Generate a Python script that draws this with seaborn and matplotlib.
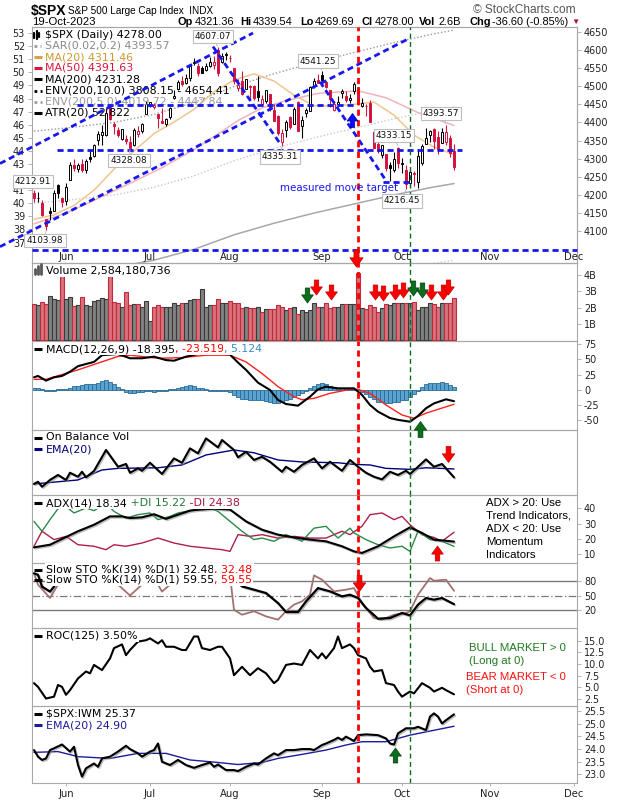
import numpy as np
import pandas as pd
import matplotlib
matplotlib.use("Agg")
import matplotlib.pyplot as plt
from matplotlib.path import Path
from matplotlib.lines import Line2D
import matplotlib.transforms as mtransforms
import matplotlib.patheffects as pe
import seaborn as sns

# ------------------------------------------------------------------ data
holidays = ["2023-05-29", "2023-06-19", "2023-07-04", "2023-09-04", "2023-11-23"]
first_day, last_day, axis_end = "2023-05-19", "2023-10-19", "2023-12-29"
month_names = ["Jun", "Jul", "Aug", "Sep", "Oct", "Nov", "Dec"]
red_line_date, green_line_date = "2023-09-15", "2023-10-04"

prev_close = 4198.05
opens = [4204.15, 4190.78, 4176.80, 4132.96, 4155.71, 4156.16, 4226.71, 4190.74, 4183.03, 4241.01,
         4282.99, 4271.34, 4285.47, 4268.69, 4304.88, 4308.32, 4352.61, 4366.29, 4365.33, 4440.95,
         4396.11, 4380.01, 4355.40, 4354.17, 4344.84, 4337.36, 4367.48, 4374.94, 4422.44, 4450.48,
         4442.04, 4422.62, 4404.54, 4394.23, 4415.55, 4467.69, 4491.50, 4514.61, 4508.86, 4521.78,
         4563.87, 4554.38, 4550.16, 4543.39, 4555.19, 4558.96, 4598.26, 4565.75, 4584.82, 4578.83,
         4550.93, 4494.27, 4513.96, 4491.58, 4498.03, 4501.57, 4487.16, 4450.69, 4458.13, 4478.87,
         4433.79, 4416.32, 4344.88, 4380.28, 4415.33, 4396.44, 4455.16, 4389.38, 4426.03, 4432.75,
         4500.34, 4517.01, 4530.60, 4510.06, 4490.35, 4434.55, 4451.30, 4480.98, 4473.27, 4462.65,
         4487.78, 4497.98, 4445.13, 4445.41, 4452.81, 4374.36, 4341.74, 4310.62, 4312.88, 4282.63,
         4269.65, 4328.18, 4284.52, 4269.75, 4233.83, 4259.31, 4234.79, 4289.02, 4339.75, 4366.59,
         4380.94, 4360.49, 4342.37, 4345.23, 4357.35, 4321.36]
highs = [4212.91, 4209.22, 4185.68, 4132.96, 4165.74, 4212.87, 4231.10, 4195.44, 4232.43, 4290.67,
         4299.28, 4288.33, 4299.19, 4298.01, 4322.62, 4340.13, 4375.37, 4391.82, 4439.20, 4448.47,
         4400.15, 4386.22, 4382.25, 4366.55, 4362.06, 4384.42, 4390.35, 4398.39, 4458.48, 4456.46,
         4454.06, 4422.62, 4440.39, 4412.60, 4443.64, 4488.34, 4517.38, 4527.76, 4532.85, 4562.30,
         4578.43, 4564.74, 4555.00, 4563.41, 4580.62, 4582.47, 4607.07, 4590.16, 4594.22, 4584.62,
         4550.93, 4519.49, 4540.34, 4519.84, 4503.31, 4502.44, 4527.37, 4476.23, 4490.33, 4478.87,
         4449.95, 4421.17, 4381.82, 4407.55, 4418.59, 4443.18, 4458.30, 4418.46, 4439.56, 4500.14,
         4521.65, 4532.26, 4541.25, 4514.29, 4490.35, 4457.81, 4473.53, 4490.77, 4487.11, 4479.39,
         4511.99, 4497.98, 4466.36, 4449.85, 4461.03, 4375.70, 4357.40, 4338.51, 4313.01, 4292.07,
         4317.27, 4333.15, 4300.58, 4281.15, 4268.50, 4267.13, 4324.10, 4341.73, 4385.46, 4378.64,
         4385.85, 4377.10, 4383.33, 4393.57, 4364.20, 4339.54]
lows = [4180.20, 4179.68, 4142.54, 4103.98, 4129.73, 4156.16, 4192.18, 4166.15, 4171.64, 4241.01,
        4266.82, 4263.09, 4263.96, 4261.07, 4291.70, 4304.37, 4337.85, 4337.85, 4362.60, 4407.44,
        4367.19, 4360.14, 4351.82, 4341.34, 4328.08, 4335.00, 4360.22, 4371.97, 4422.44, 4442.29,
        4436.61, 4385.05, 4397.40, 4389.92, 4408.46, 4463.23, 4489.36, 4499.56, 4504.90, 4514.59,
        4557.48, 4527.56, 4535.79, 4541.29, 4552.42, 4547.58, 4528.56, 4564.01, 4573.14, 4567.53,
        4505.75, 4485.54, 4474.55, 4491.15, 4464.39, 4461.33, 4457.92, 4443.98, 4453.44, 4432.19,
        4403.55, 4364.83, 4335.31, 4360.30, 4382.77, 4396.44, 4375.55, 4356.29, 4414.98, 4431.68,
        4493.59, 4507.39, 4501.35, 4496.01, 4442.38, 4430.46, 4448.38, 4467.89, 4456.83, 4453.52,
        4478.69, 4447.21, 4442.11, 4416.61, 4401.38, 4329.17, 4316.49, 4302.70, 4265.98, 4238.63,
        4264.38, 4274.86, 4260.21, 4216.45, 4220.48, 4225.91, 4219.55, 4283.79, 4339.64, 4345.34,
        4325.43, 4311.97, 4342.37, 4337.54, 4303.84, 4269.69]
closes = [4191.98, 4192.63, 4145.58, 4115.24, 4151.28, 4205.45, 4205.52, 4179.83, 4221.02, 4282.37,
          4273.79, 4283.85, 4267.52, 4293.93, 4298.86, 4338.93, 4369.01, 4372.59, 4425.84, 4409.59,
          4388.71, 4365.69, 4381.89, 4348.33, 4328.82, 4378.41, 4376.86, 4396.44, 4450.38, 4455.59,
          4446.82, 4411.59, 4398.95, 4409.53, 4439.26, 4472.16, 4510.04, 4505.42, 4522.79, 4554.98,
          4565.72, 4534.87, 4536.34, 4554.64, 4567.46, 4566.75, 4537.41, 4582.23, 4588.96, 4576.73,
          4513.39, 4501.89, 4478.03, 4518.44, 4499.38, 4467.71, 4468.83, 4464.05, 4489.72, 4437.86,
          4404.33, 4370.36, 4369.71, 4399.77, 4387.55, 4436.01, 4376.31, 4405.71, 4433.31, 4497.63,
          4514.87, 4507.66, 4515.77, 4496.83, 4465.48, 4451.14, 4457.49, 4487.46, 4461.90, 4467.44,
          4505.10, 4450.32, 4453.53, 4443.95, 4402.20, 4330.00, 4320.06, 4337.44, 4273.53, 4274.51,
          4299.70, 4288.05, 4288.39, 4229.45, 4263.75, 4258.19, 4308.50, 4335.66, 4358.24, 4376.95,
          4349.61, 4327.78, 4373.63, 4373.20, 4314.60, 4278.00]
volume_b = [2.23, 2.15, 2.33, 2.23, 2.72, 2.53, 2.47, 3.94, 2.52, 2.64,
            2.09, 2.17, 2.64, 2.17, 2.09, 2.39, 2.47, 2.58, 2.52, 3.94,
            2.33, 2.27, 2.06, 2.96, 2.15, 2.21, 2.21, 2.06, 2.39, 1.17,
            2.02, 2.15, 2.02, 2.06, 2.06, 2.27, 2.18, 2.27, 2.27, 2.47,
            2.52, 2.52, 3.13, 2.06, 2.18, 2.18, 2.55, 2.27, 2.31, 2.39,
            2.27, 2.31, 1.96, 2.06, 2.00, 1.96, 2.02, 1.75, 1.90, 1.90,
            1.90, 2.15, 2.06, 1.86, 1.96, 2.02, 1.61, 1.86, 1.75, 1.86,
            2.27, 2.02, 2.06, 2.31, 2.00, 2.06, 2.06, 2.21, 2.21, 2.21,
            2.21, 4.11, 1.96, 1.90, 2.17, 2.06, 1.75, 2.00, 2.21, 2.17,
            2.31, 2.27, 2.31, 2.27, 2.27, 2.37, 1.86, 2.06, 2.06, 2.27,
            2.23, 2.06, 2.31, 2.31, 2.31, 2.58]
macd_hist = [3, 3, 1, -2, -2, -1, 1, 1, 2, 4,
             6, 7, 8, 9, 9, 10, 12, 14, 16, 13,
             9, 5, 1, -3, -5, -5, -4, -4, -1, -2,
             -3, -2, -1, -1, 1, 2, 4, 5, 7, 8,
             6, 4, 3, 1, -1, -1, -2, -1, -2, -4,
             -8, -11, -14, -15, -16, -17, -17, -17, -18, -20,
             -22, -21, -19, -17, -15, -12, -8, -5, -2, 3,
             7, 10, 11, 9, 6, 4, 3, 3, 3, 4,
             2, 0, -3, -6, -11, -15, -19, -20, -22, -21,
             -20, -19, -17, -16, -12, -7, -1, 5, 9, 11,
             12, 12, 13, 11, 8, 5.1]

ma20_idx = [0, 5, 10, 15, 20, 25, 30, 35, 40, 45, 50, 55, 60, 65, 70, 75, 80, 85, 90, 95, 100, 105]
ma20_val = [4133, 4145, 4171, 4213, 4271, 4321, 4369, 4401, 4436, 4484, 4517, 4534, 4514, 4475,
            4446, 4445, 4450, 4456, 4420, 4365, 4332, 4311.46]
ma50_idx = [0, 8, 16, 24, 32, 40, 46, 51, 57, 63, 71, 81, 88, 96, 105]
ma50_val = [4120, 4150, 4190, 4232, 4275, 4325, 4368, 4405, 4440, 4460, 4480, 4487, 4468, 4427, 4391.63]
ma200_idx = [0, 10, 20, 30, 40, 50, 60, 70, 80, 90, 100, 105]
ma200_val = [3978, 3988, 4000, 4020, 4050, 4090, 4122, 4150, 4175, 4200, 4222, 4231.28]

macd_idx = [0, 1, 3, 5, 7, 9, 11, 13, 15, 17, 21, 24, 27, 30, 33, 35, 38, 41, 44, 47, 49, 51, 53,
            56, 59, 61, 63, 66, 69, 71, 73, 76, 79, 80, 82, 84, 86, 89, 91, 94, 96, 98, 100, 103, 105]
macd_val = [20.8, 23, 15.3, 20.8, 23, 30, 39, 42.6, 46, 57, 59, 52, 52, 54.6, 49, 48, 54.6, 59, 62, 61,
            58, 45, 33, 12, 0, -16.4, -23, -25.7, -11, 1, 5.5, 2.7, 2.7, 2.7, -8, -24.6, -35.5, -46,
            -49, -52, -42.6, -30, -22, -15.3, -18.4]
signal_idx = [0, 3, 11, 16, 21, 24, 31, 37, 43, 49, 53, 57, 61, 65, 67, 70, 74, 79, 81, 84, 88, 92,
              95, 98, 101, 105]
signal_val = [17.5, 17.5, 33, 44, 55, 57, 52, 53, 57, 57, 46, 27, 5.5, -11, -16, -13.7, -5.5, 1, 1,
              -5.5, -24.6, -41, -46.4, -38, -31.7, -23.5]

obv_idx = [0, 1, 2, 4, 6, 8, 9, 11, 12, 13, 15, 18, 21, 23, 24, 26, 27, 29, 32, 35, 37, 39, 41, 43,
           46, 47, 50, 51, 53, 55, 57, 59, 62, 63, 65, 67, 70, 72, 74, 77, 79, 81, 83, 85, 87, 89,
           91, 93, 94, 96, 98, 100, 102, 105]
obv_val = [4.7, 5.8, 3.3, 6.7, 9.2, 6.7, 10.3, 8.3, 10.8, 8.0, 11.2, 21.7, 13.3, 14.7, 10.3, 12.5,
           11.3, 15.3, 9.7, 17.5, 15.3, 22.5, 20.0, 27.5, 23.0, 26.7, 21.7, 18.0, 20.8, 16.7, 18.3,
           15.8, 10.8, 13.3, 10.8, 14.2, 17.5, 12.5, 15.8, 11.3, 16.7, 13.3, 10.3, 8.3, 7.0, 10.8,
           9.2, 11.3, 9.7, 13.3, 17.0, 13.3, 14.7, 8.0]
obv_ema_idx = [0, 11, 17, 21, 31, 37, 43, 50, 55, 61, 67, 76, 80, 84, 88, 94, 98, 105]
obv_ema_val = [4.7, 6.7, 11.7, 12.5, 12.8, 14.2, 19.2, 21.7, 20.3, 16.7, 15.7, 15.3, 14.5, 14.2,
               12.5, 12.0, 12.8, 12.2]

adx_idx = [0, 4, 11, 15, 19, 22, 24, 27, 30, 33, 36, 39, 41, 45, 49, 53, 57, 61, 65, 69, 73, 77,
           80, 82, 86, 90, 94, 97, 100, 105]
adx_val = [14.6, 16.3, 25, 29.2, 34.6, 34.6, 33.5, 34, 36, 33, 35.7, 38.3, 38.9, 39.6, 39, 31.4,
           26, 22.8, 21, 19.6, 18.5, 15.3, 12, 11, 15.3, 21.7, 27.5, 23.9, 19.6, 18.34]
pdi_idx = [0, 2, 4, 7, 10, 13, 15, 18, 20, 23, 26, 29, 31, 34, 36, 39, 43, 46, 49, 52, 55, 57, 60,
           63, 67, 70, 73, 76, 79, 80, 83, 86, 89, 92, 94, 96, 99, 102, 105]
pdi_val = [31.4, 25, 32.5, 43, 36.8, 40, 38.3, 43, 37.8, 33.5, 35.7, 36.8, 32.5, 34.6, 36.8, 38.3,
           41, 37.8, 31.4, 25, 19.6, 20.6, 18.5, 22.8, 18.5, 27, 28.2, 20.6, 27, 23.9, 19.6, 16.3,
           14.2, 15.3, 12, 25, 19.6, 18.5, 15.22]
mdi_idx = [0, 2, 5, 8, 11, 15, 18, 20, 23, 27, 31, 35, 39, 43, 47, 49, 51, 54, 57, 61, 65, 69, 73,
           77, 79, 82, 84, 87, 90, 92, 94, 97, 100, 102, 105]
mdi_val = [15.3, 25, 19.6, 21.7, 16.3, 15.3, 13.1, 16.3, 15.3, 17.4, 20.6, 17.4, 15.3, 14.2, 13.1,
           12, 22.8, 21.7, 22.8, 20.6, 21.7, 20.6, 20.6, 25, 22.8, 28.2, 35.7, 36.8, 32.5, 34.6,
           29.2, 22.8, 21, 18.5, 24.38]

k39_idx = [0, 1, 2, 4, 5, 6, 10, 20, 30, 40, 45, 47, 49, 52, 55, 58, 61, 63, 66, 68, 71, 74, 77,
           79, 81, 83, 86, 89, 92, 94, 96, 98, 100, 102, 105]
k39_val = [95, 92, 68, 58, 68, 92, 96, 97, 95, 96, 97, 96, 91, 68.5, 61.8, 55, 34.7, 16.5, 16.5, 38,
           65, 58.4, 48.2, 51.6, 44.9, 24.6, 3, 4.3, 14.5, 9.7, 31.4, 44.9, 41.5, 44.9, 32.48]
k14_idx = [0, 1, 4, 6, 7, 15, 20, 21, 24, 27, 28, 30, 31, 32, 34, 35, 45, 49, 50, 52, 55, 58, 61,
           63, 65, 67, 69, 70, 72, 75, 78, 80, 82, 85, 87, 90, 93, 94, 96, 99, 100, 103, 105]
k14_val = [95, 72, 45, 72, 95, 96, 95, 72, 50, 72, 95, 95, 72, 58, 72, 95, 97, 91, 21, 11, 18, 7.7,
           1, 18, 31.4, 38, 51.6, 90.8, 82, 58.4, 61.8, 65, 34.7, 4.3, 1, 11, 14.5, 18, 51.6, 85.4,
           80, 82, 59.55]

roc_idx = [0, 1, 3, 5, 6, 7, 8, 9, 11, 13, 14, 15, 17, 19, 20, 22, 23, 24, 26, 28, 29, 31, 32, 33,
           35, 37, 38, 40, 41, 42, 44, 46, 47, 49, 50, 52, 54, 56, 58, 60, 61, 63, 65, 67, 69, 71,
           72, 73, 75, 76, 77, 79, 80, 81, 83, 84, 85, 87, 88, 90, 91, 92, 94, 95, 97, 99, 100,
           102, 103, 105]
roc_val = [5.9, 5.1, 2.6, 3.0, 5.5, 5.1, 3.4, 4.4, 6.9, 8.4, 8.0, 9.8, 8.7, 11.2, 13.4, 14.2, 11.9,
           13.0, 14.8, 15.1, 15.5, 14.4, 15.1, 13.7, 13.7, 13.0, 13.0, 15.9, 15.9, 13.4, 13.0, 13.7,
           13.7, 11.2, 7.6, 9.4, 7.6, 9.1, 8.0, 5.9, 6.6, 9.8, 10.1, 9.8, 13.0, 11.2, 12.3, 11.2,
           13.4, 15.9, 13.4, 14.2, 13.4, 11.9, 11.2, 9.4, 8.4, 8.7, 5.9, 5.5, 4.1, 3.0, 4.1, 3.7,
           5.9, 4.9, 4.1, 4.9, 4.4, 3.5]

iwm_idx = [0, 1, 2, 3, 4, 5, 7, 9, 10, 11, 12, 13, 15, 16, 17, 19, 21, 23, 24, 26, 27, 29, 30, 31,
           32, 34, 36, 38, 40, 42, 44, 45, 46, 48, 50, 51, 53, 55, 56, 58, 60, 61, 63, 65, 67, 69,
           70, 72, 73, 75, 76, 77, 78, 80, 81, 83, 86, 88, 89, 90, 91, 93, 95, 96, 98, 99, 100,
           101, 102, 103, 105]
iwm_val = [23.96, 23.70, 23.57, 23.63, 23.96, 24.03, 24.18, 23.90, 24.09, 23.37, 22.91, 23.24,
           23.43, 23.30, 23.63, 23.70, 23.90, 24.13, 24.00, 23.83, 23.70, 23.90, 23.96, 24.22,
           23.50, 23.37, 23.57, 23.37, 23.26, 23.37, 23.47, 23.30, 23.39, 23.17, 23.17, 23.13,
           23.30, 23.43, 23.39, 23.63, 23.83, 23.76, 23.96, 23.96, 24.00, 24.00, 23.96, 24.16,
           24.22, 24.36, 24.45, 24.36, 24.49, 24.32, 24.55, 24.58, 24.55, 24.42, 24.22, 24.18,
           24.62, 24.82, 24.82, 24.88, 24.75, 25.28, 25.41, 25.28, 25.01, 25.14, 25.37]
iwm_ema_idx = [0, 6, 11, 19, 26, 33, 39, 46, 51, 57, 61, 67, 73, 78, 82, 88, 94, 99, 105]
iwm_ema_val = [23.87, 23.90, 23.70, 23.63, 23.83, 23.83, 23.57, 23.47, 23.39, 23.47, 23.63, 23.79,
               23.96, 24.16, 24.29, 24.29, 24.55, 24.71, 24.90]

atr_ticks = [37, 38, 39, 40, 41, 43, 44, 45, 46, 47, 48, 49, 50, 51, 52, 53]

# price labels: (bar index, value, dx px, dy px)
price_labels = [(46, 4607.07, -5, -11), (72, 4541.25, -4, -10), (62, 4335.31, -2, 11),
                (24, 4328.08, -1, 12), (0, 4212.91, -1, -9), (3, 4103.98, -1, 11),
                (91, 4333.15, -4, -11), (93, 4216.45, -4, 12), (103, 4393.57, -5, -11)]
# hand-drawn trend lines (bar index, price)
trend_lines = [((-8.5, 4286.6), (54.75, 4646.4)), ((-8.5, 4057.2), (94.0, 4632.6)),
               ((10.75, 4447.9), (80.25, 4447.9)), ((5.75, 4323.8), (107.0, 4323.8)),
               ((44.75, 4609.0), (61.5, 4342.0)), ((71.5, 4512.0), (88.2, 4236.4)),
               ((87.25, 4236.4), (94.5, 4236.4)), ((-0.5, 4048.2), (135.75, 4048.2))]
# signal arrows: panel, bar index, value, direction, colour, size(px)
signal_arrows = [("vol", 68.3, 2.78, "down", "g", 15), ("vol", 70.5, 3.25, "down", "r", 15),
                 ("vol", 74.25, 2.98, "down", "r", 15), ("vol", 85.25, 2.98, "down", "r", 15),
                 ("vol", 87.3, 2.88, "down", "r", 15), ("vol", 90.25, 2.98, "down", "r", 15),
                 ("vol", 92.3, 3.09, "down", "r", 15), ("vol", 94.8, 3.19, "down", "g", 15),
                 ("vol", 96.9, 3.09, "down", "g", 15), ("vol", 99.2, 2.94, "down", "r", 15),
                 ("vol", 102.3, 2.94, "down", "r", 15), ("vol", 103.4, 3.25, "down", "r", 15),
                 ("price", 80.5, 4026, "down", "r", 17), ("price", 79.5, 4406, "up", "b", 14),
                 ("macd", 96.5, -64, "up", "g", 16), ("obv", 103.5, 19.7, "down", "r", 16),
                 ("adx", 100.75, 11, "up", "r", 15), ("sto", 81.25, 75.3, "down", "r", 16),
                 ("iwm", 90.25, 23.76, "up", "g", 15)]

# ------------------------------------------------------------------ setup
sns.set_theme(style="white")
plt.rcParams["font.family"] = ["DejaVu Sans"]
W, H = 620, 800
X0, X1 = 32, 577
XMIN, XMAX = -0.5, 135.75
SPINE = "#a8a8a8"
LEG = 7.9
ARIAL = ["Liberation Sans", "DejaVu Sans"]

cal = pd.bdate_range(first_day, axis_end)
cal = cal[~cal.isin(pd.to_datetime(holidays))]
n = int((cal <= pd.Timestamp(last_day)).sum())
x = np.arange(n)
month_pos = [int(np.argmax(cal.month == m)) for m in range(6, 13)]
red_x = cal.get_loc(pd.Timestamp(red_line_date))
green_x = cal.get_loc(pd.Timestamp(green_line_date))

fig = plt.figure(figsize=(6.2, 8.0), dpi=100)
fig.patch.set_facecolor("white")
renderer = fig.canvas.get_renderer()


def panel(y0, y1):
    ax = fig.add_axes([X0 / W, 1 - y1 / H, (X1 - X0) / W, (y1 - y0) / H])
    ax.patch.set_alpha(0)
    return ax


def style(ax, lim, ticks=None, labels=None, side="right"):
    ax.set_xlim(XMIN, XMAX)
    ax.set_ylim(*lim)
    ax.set_xticks([])
    ax.set_xlabel("")
    ax.set_ylabel("")
    for s in ax.spines.values():
        s.set_color(SPINE)
        s.set_linewidth(0.8)
    if ticks is None:
        ax.set_yticks([])
    else:
        ax.set_yticks(ticks)
        ax.set_yticklabels(labels if labels is not None else [str(t) for t in ticks])
    if side == "right":
        ax.yaxis.tick_right()
        ax.tick_params(axis="y", right=True, left=False, length=3, width=0.6, color=SPINE,
                       labelsize=6.9, labelcolor="#222222", pad=2)
    else:
        ax.yaxis.tick_left()
        ax.tick_params(axis="y", left=True, right=False, length=3, width=0.6, color=SPINE,
                       labelsize=6.9, labelcolor="#222222", pad=2)


def sline(ax, idx, val, color, lw, ls="-", shadow=False, z=3):
    sns.lineplot(x=np.asarray(idx, float), y=np.asarray(val, float), ax=ax, color=color,
                 linewidth=lw, linestyle=ls, sort=False, estimator=None, errorbar=None, zorder=z)
    line = ax.lines[-1]
    if shadow:
        line.set_path_effects([pe.SimpleLineShadow(offset=(0.9, -0.9), shadow_color="#888888",
                                                   alpha=0.55), pe.Normal()])
    return line


def vlines(ax):
    ax.axvline(red_x, color="#ff0000", lw=2.0, ls=(0, (2.2, 1.6)), zorder=8)
    ax.axvline(green_x, color="#0b6b1e", lw=1.0, ls=(0, (3.5, 2.5)), zorder=8)


def ftext(x0, y0, s, color="black", size=LEG, weight="normal", bg=False, family=None, target=None,
          ha="left", z=20):
    kw = dict(color=color, fontsize=size, fontweight=weight, va="center", ha=ha, zorder=z)
    if family is not None:
        kw["family"] = family
    if target is None:
        t = fig.text(x0 / W, 1 - y0 / H, s, **kw)
    else:
        t = target.text(x0 / W, 1 - y0 / H, s, transform=fig.transFigure, **kw)
    if bg:
        t.set_bbox(dict(facecolor="white", edgecolor="none", pad=0.8))
    return t


def fseq(x0, y0, parts, **kw):
    for s, c in parts:
        t = ftext(x0, y0, s, color=c, **kw)
        x0 += t.get_window_extent(renderer).width
    return x0


def fmark(x0, y0, color="black", ls="-", lw=2.2, length=8):
    fig.add_artist(Line2D([x0 / W, (x0 + length) / W], [1 - y0 / H] * 2, color=color, lw=lw, ls=ls,
                          solid_capstyle="butt", transform=fig.transFigure, zorder=21))


# ------------------------------------------------------------------ price panel
ax_atr = panel(27, 263)
ax_p = ax_atr.twinx()
ax_p.patch.set_alpha(0)

o, h, l, c = (np.asarray(v, float) for v in (opens, highs, lows, closes))
pc = np.r_[prev_close, c[:-1]]
up = c >= pc
edge = np.where(up, "#000000", "#d3143f")
face = np.where(c > o, "#ffffff", edge)

ma200 = np.asarray(ma200_val, float)
sline(ax_p, ma200_idx, ma200 * 1.10, "#9a9a9a", 1.0, ls=(0, (1, 1.5)), z=2)
sline(ax_p, ma200_idx, ma200 * 0.90, "#9a9a9a", 1.0, ls=(0, (1, 1.5)), z=2)
sline(ax_p, ma200_idx, ma200 * 1.05, "#c8c8c8", 1.0, ls=(0, (1, 1.5)), z=2)
sline(ax_p, ma200_idx, ma200 * 0.95, "#c8c8c8", 1.0, ls=(0, (1, 1.5)), z=2)
sline(ax_p, ma200_idx, ma200_val, "#a8a8a8", 1.1, z=2)
sline(ax_p, ma50_idx, ma50_val, "#f2b3bd", 1.1, z=2)
sline(ax_p, ma20_idx, ma20_val, "#efc68e", 1.1, z=2)

ax_p.vlines(x, l, h, colors=edge, lw=0.8, zorder=4)
ax_p.bar(x, np.maximum(np.abs(c - o), 0.9), bottom=np.minimum(o, c), width=0.72, color=face,
         edgecolor=edge, linewidth=0.7, zorder=5)

for (xa, ya), (xb, yb) in trend_lines:
    ax_p.plot([xa, xb], [ya, yb], color="#1717f0", lw=2.0, ls=(0, (2.2, 1.4)), zorder=7,
              clip_on=False)

for i, v, dx, dy in price_labels:
    ax_p.annotate(f"{v:.2f}", xy=(i, v), xytext=(dx / 1.389, -dy / 1.389), textcoords="offset points",
                  ha="center", va="center", fontsize=6.4, color="#111111", zorder=9,
                  annotation_clip=False,
                  bbox=dict(boxstyle="square,pad=0.25", fc="white", ec="#bdbdbd", lw=0.8),
                  arrowprops=dict(arrowstyle="-", color="#bdbdbd", lw=0.7, shrinkA=0, shrinkB=1))

ax_p.text(61.5, 4219, "measured move target", color="#1717f0", fontsize=7.4, va="center",
          ha="left", zorder=9)
vlines(ax_p)
style(ax_atr, (35.44, 53.46), atr_ticks, side="left")
style(ax_p, (4012.3, 4663.0), list(range(4100, 4651, 50)), side="right")
ax_p.spines["left"].set_visible(False)
blend = mtransforms.blended_transform_factory(ax_p.transData, ax_p.transAxes)
for pos, name in zip(month_pos, month_names):
    ax_p.text(pos, 0.026, name, transform=blend, ha="center", va="center", fontsize=7.2,
              color="#222222", zorder=9)

# price legend (no background)
leg_y = [35, 46, 57, 68, 79, 90.5, 101.5, 112.5]
for k, hgt in enumerate([5, 8, 4]):
    fig.add_artist(Line2D([(34 + 2.6 * k) / W] * 2, [1 - (leg_y[0] + hgt / 2) / H, 1 - (leg_y[0] - hgt / 2) / H],
                          color="black", lw=1.6, transform=fig.transFigure, zorder=21))
ftext(45, leg_y[0], r"\$SPX (Daily) 4278.00", target=ax_p, z=6)
fmark(34, leg_y[1], color="#9a9a9a", ls=(0, (1, 1.2)), lw=2.0, length=7)
ftext(45, leg_y[1], "SAR(0.02,0.2) 4393.57", color="#8a8a8a", target=ax_p, z=6)
fmark(34, leg_y[2], color="#d7a04a")
ftext(45, leg_y[2], "MA(20) 4311.46", color="#cf9a30", target=ax_p, z=6)
fmark(34, leg_y[3], color="#dc143c")
ftext(45, leg_y[3], "MA(50) 4391.63", color="#dc143c", target=ax_p, z=6)
fmark(34, leg_y[4], color="black")
ftext(45, leg_y[4], "MA(200) 4231.28", target=ax_p, z=6)
fmark(34, leg_y[5], color="black", ls=(0, (1, 1.2)), lw=2.0)
ftext(45, leg_y[5], "ENV(200,10.0) 3808.15 - 4654.41", target=ax_p, z=6)
fmark(34, leg_y[6], color="#9a9a9a", ls=(0, (1, 1.2)), lw=2.0)
ftext(45, leg_y[6], "ENV(200,5.0) 4019.72 - 4442.84", color="#9a9a9a", target=ax_p, z=6)
fmark(34, leg_y[7], color="black")
ftext(45, leg_y[7], "ATR(20) 52.822", target=ax_p, z=6)

# ------------------------------------------------------------------ volume
ax_v = panel(263, 341)
ax_v.bar(x, volume_b, width=0.8, color=np.where(up, "#828282", "#d7737d"),
         edgecolor=np.where(up, "#3a3a3a", "#c22a3c"), linewidth=0.8, zorder=3)
vlines(ax_v)
style(ax_v, (-0.04, 4.74), [1, 2, 3, 4], ["1B", "2B", "3B", "4B"])
for k, hgt in enumerate([5, 8, 10]):
    fig.add_artist(Line2D([(35 + 2.8 * k) / W] * 2, [1 - 274 / H, 1 - (274 - hgt) / H],
                          color="#555555", lw=2.0, transform=fig.transFigure, zorder=21))
ftext(46, 271, "Volume 2,584,180,736", bg=True)

# ------------------------------------------------------------------ MACD
ax_m = panel(341, 430)
ax_m.bar(x, macd_hist, width=1.0, color="#5aa2cf", edgecolor="#2a6b95", linewidth=0.6, zorder=2)
sline(ax_m, signal_idx, signal_val, "#ff2020", 1.0, z=3)
sline(ax_m, macd_idx, macd_val, "black", 1.5, z=4)
vlines(ax_m)
style(ax_m, (-65.6, 80.3), [-50, -25, 0, 25, 50, 75])
fmark(34, 349)
fseq(46, 349, [("MACD(12,26,9) -18.395", "black"), (", -23.519", "#ff0000"), (", 5.124", "#3a8cc4")],
     bg=True)

# ------------------------------------------------------------------ OBV
ax_o = panel(430, 495)
sline(ax_o, obv_ema_idx, obv_ema_val, "#00007a", 1.0, z=3)
sline(ax_o, obv_idx, obv_val, "black", 1.5, shadow=True, z=4)
vlines(ax_o)
style(ax_o, (-0.83, 31.7))
fmark(34, 437.5)
ftext(46, 437.5, "On Balance Vol", bg=True)
fmark(34, 449, color="#00007a")
ftext(46, 449, "EMA(20)", color="#00007a", bg=True)

# ------------------------------------------------------------------ ADX
ax_a = panel(495, 563)
sline(ax_a, mdi_idx, mdi_val, "#b01e4c", 1.0, z=3)
sline(ax_a, pdi_idx, pdi_val, "#2c8a48", 1.0, z=3)
sline(ax_a, adx_idx, adx_val, "black", 1.5, shadow=True, z=4)
vlines(ax_a)
style(ax_a, (4.5, 48.4), [10, 20, 30, 40])
fmark(34, 503)
fseq(46, 503, [("ADX(14) 18.34", "black"), (" +DI 15.22", "#1e7a3a"), (" -DI 24.38", "#a8143c")],
     bg=True)
for k, s in enumerate(["ADX > 20: Use", "Trend Indicators,", "ADX < 20: Use", "Momentum",
                       "Indicators"]):
    ftext(486, 503 + 13 * k, s, size=8.2, family=ARIAL)

# ------------------------------------------------------------------ Slow STO
ax_s = panel(563, 628)
ax_s.axhline(80, color="#7a7a7a", lw=1.0, zorder=1)
ax_s.axhline(20, color="#7a7a7a", lw=1.0, zorder=1)
ax_s.axhline(50, color="#7a7a7a", lw=0.9, ls=(0, (6, 2, 1, 2)), zorder=1)
sline(ax_s, k14_idx, k14_val, "#a27272", 1.3, z=3)
sline(ax_s, k39_idx, k39_val, "black", 1.6, shadow=True, z=4)
vlines(ax_s)
style(ax_s, (-15.9, 115.9), [20, 50, 80])
fmark(34, 569.5)
fseq(46, 569.5, [("Slow STO %K(39) %D(1) 32.48", "black"), (", 32.48", "#ff0000")], bg=True)
fmark(34, 579.5)
fseq(46, 579.5, [("Slow STO %K(14) %D(1) 59.55", "black"), (", 59.55", "#ff0000")], bg=True)

# ------------------------------------------------------------------ ROC
ax_r = panel(628, 706)
sline(ax_r, roc_idx, roc_val, "black", 1.5, z=4)
vlines(ax_r)
style(ax_r, (1.0, 17.72), [2.5, 5.0, 7.5, 10.0, 12.5, 15.0],
      ["2.5", "5.0", "7.5", "10.0", "12.5", "15.0"])
fmark(34, 636)
ftext(46, 636, "ROC(125) 3.50%", bg=True)
ftext(469, 648, "BULL MARKET > 0", color="#1e7a1e", size=8.2, family=ARIAL)
ftext(469, 661, "(Long at 0)", color="#1e7a1e", size=8.2, family=ARIAL)
ftext(466, 677, "BEAR MARKET < 0", color="#ff1010", size=8.2, family=ARIAL)
ftext(466, 690, "(Short at 0)", color="#ff1010", size=8.2, family=ARIAL)

# ------------------------------------------------------------------ SPX:IWM
ax_i = panel(706, 783)
sline(ax_i, iwm_ema_idx, iwm_ema_val, "#1c1c9a", 1.0, z=3)
sline(ax_i, iwm_idx, iwm_val, "black", 1.5, shadow=True, z=4)
vlines(ax_i)
style(ax_i, (22.66, 25.70), [23.0, 23.5, 24.0, 24.5, 25.0, 25.5],
      ["23.0", "23.5", "24.0", "24.5", "25.0", "25.5"])
ax_i.set_xticks(month_pos)
ax_i.set_xticklabels(month_names)
ax_i.tick_params(axis="x", bottom=True, length=2.5, width=0.6, color=SPINE, labelsize=7.2,
                 labelcolor="#222222", pad=1.5)
fmark(34, 714)
ftext(46, 714, r"\$SPX:IWM 25.37", bg=True)
fmark(34, 725, color="#1c1c9a")
ftext(46, 725, "EMA(20) 24.90", color="#1c1c9a", bg=True)

# ------------------------------------------------------------------ signal arrows
shaft, head, split = 0.3, 0.78, 0.08
down_verts = [(-shaft, 1), (shaft, 1), (shaft, split), (head, split), (0, -1), (-head, split),
              (-shaft, split), (-shaft, 1)]
arrow_paths = {"down": Path(down_verts, closed=True),
               "up": Path([(a, -b) for a, b in down_verts], closed=True)}
arrow_cols = {"r": ("#ff0000", "#c00000"), "g": ("#0a6e1a", "#034010"), "b": ("#0a0aff", "#0000a0")}
panel_axes = {"vol": ax_v, "price": ax_p, "macd": ax_m, "obv": ax_o, "adx": ax_a, "sto": ax_s,
              "iwm": ax_i}
for pname, ai, av, d, col, size in signal_arrows:
    fc, ec = arrow_cols[col]
    fig.add_artist(Line2D([ai], [av], transform=panel_axes[pname].transData, marker=arrow_paths[d],
                          markersize=size / 1.389, markerfacecolor=fc, markeredgecolor=ec,
                          markeredgewidth=0.5, ls="none", zorder=30))

# ------------------------------------------------------------------ header
ftext(31, 11, r"\$SPX", size=10, weight="bold", family=ARIAL)
ftext(68, 11, "S&P 500 Large Cap Index  INDX", size=7.2, family=ARIAL)
ftext(576, 10, "\u00a9 StockCharts.com", size=8.6, color="#555555", family=ARIAL, ha="right")
ftext(32, 22, "19-Oct-2023", size=8.2, family=ARIAL)
header = [(177, "Op", "bold"), (195, "4321.36", "normal"), (240, "Hi", "bold"),
          (253, "4339.54", "normal"), (300, "Lo", "bold"), (315, "4269.69", "normal"),
          (361, "Cl", "bold"), (375, "4278.00", "normal"), (419, "Vol", "bold"),
          (439, "2.6B", "normal"), (469, "Chg", "bold"), (492, "-36.60 (-0.85%)", "normal")]
for hx, s, wgt in header:
    ftext(hx, 22, s, size=7.9, weight=wgt, family=ARIAL)
ftext(571, 22, "\u25bc", size=6.0, color="#b01030", family=ARIAL)

fig.savefig("out.png", dpi=100, facecolor="white")
